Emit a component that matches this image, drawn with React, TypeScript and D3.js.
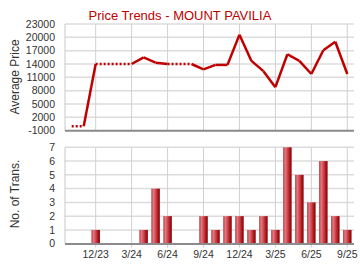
import React from "react";
import * as d3 from "d3";

const months = ["10/23","11/23","12/23","1/24","2/24","3/24","4/24","5/24","6/24","7/24","8/24","9/24","10/24","11/24","12/24","1/25","2/25","3/25","4/25","5/25","6/25","7/25","8/25","9/25"];
const prices = [0,0,14000,14000,14000,14000,15500,14300,14000,14000,14000,12800,13800,13800,20600,14700,12400,8800,16200,14700,11750,17100,19000,11750];
const trans = [0,0,1,0,0,0,1,4,2,0,0,2,1,2,2,1,2,1,7,5,3,6,2,1];
const xTickLabels = ["12/23","3/24","6/24","9/24","12/24","3/25","6/25","9/25"];
const priceTicks = [-1000,2000,5000,8000,11000,14000,17000,20000,23000];
const transTicks = [0,1,2,3,4,5,6,7];

const W = 360, H = 270;
const L = 65, R = 354;
const tickFont = "Liberation Sans, Arial, sans-serif";

export default function App() {
  const x = d3.scaleLinear().domain([-0.56, months.length - 0.44]).range([L, R]);
  const yP = d3.scaleLinear().domain([-1000, 23000]).range([130.7, 24]);
  const yT = d3.scaleLinear().domain([0, 7]).range([243.7, 147.3]);
  const tickIdx = xTickLabels.map((l) => months.indexOf(l));
  const line = d3.line<[number, number]>().x((d) => d[0]).y((d) => d[1]);
  const segs = prices.slice(1).map((p, i) => ({
    d: line([[x(i), yP(prices[i])], [x(i + 1), yP(p)]]) as string,
    dotted: trans[i + 1] === 0,
  }));
  const bw = 8.5;
  return (
    <svg width={W} height={H} style={{ position: "absolute", left: 0, top: 0, background: "#fff" }} fontFamily={tickFont}>
      <defs>
        <linearGradient id="barg" x1="0" x2="1" y1="0" y2="0">
          <stop offset="0%" stopColor="#c0383e" />
          <stop offset="25%" stopColor="#e07a7e" />
          <stop offset="55%" stopColor="#c9404a" />
          <stop offset="80%" stopColor="#a81418" />
          <stop offset="100%" stopColor="#800000" />
        </linearGradient>
      </defs>
      <text x={180} y={19.5} textAnchor="middle" fontSize={13} fill="#c00000">Price Trends - MOUNT PAVILIA</text>
      {/* top chart grid */}
      {priceTicks.map((t) => (
        <line key={"pg" + t} x1={L} x2={R} y1={yP(t)} y2={yP(t)} stroke="#dcdcdc" strokeWidth={1.5} />
      ))}
      {tickIdx.map((i) => (
        <line key={"pv" + i} x1={x(i)} x2={x(i)} y1={24} y2={130.7} stroke="#d0d0d0" strokeWidth={1} />
      ))}
      <line x1={L} x2={L} y1={24} y2={130.7} stroke="#c8c8c8" strokeWidth={1} />
      <line x1={L} x2={R} y1={130.7} y2={130.7} stroke="#8c8c8c" strokeWidth={2} />
      {priceTicks.map((t) => (
        <text key={"pl" + t} x={55} y={yP(t)} dy="0.35em" textAnchor="end" fontSize={10.5} fill="#333">{t}</text>
      ))}
      <text transform={`translate(19,77) rotate(-90)`} textAnchor="middle" fontSize={12} fill="#333">Average Price</text>
      {segs.map((s, i) => (
        <path key={"s" + i} d={s.d} fill="none" stroke="#c00000" strokeWidth={2.5}
          strokeDasharray={s.dotted ? "2,2" : undefined} strokeLinecap="butt" />
      ))}
      {/* bottom chart */}
      {transTicks.map((t) => (
        <line key={"tg" + t} x1={L} x2={R} y1={yT(t)} y2={yT(t)} stroke="#dcdcdc" strokeWidth={1.5} />
      ))}
      {tickIdx.map((i) => (
        <line key={"tv" + i} x1={x(i)} x2={x(i)} y1={147.3} y2={247.5} stroke="#d0d0d0" strokeWidth={1} />
      ))}
      <line x1={L} x2={L} y1={147.3} y2={243.7} stroke="#c8c8c8" strokeWidth={1} />
      {trans.map((v, i) => v > 0 ? (
        <rect key={"b" + i} x={x(i) - bw / 2} y={yT(v)} width={bw} height={yT(0) - yT(v)} fill="url(#barg)" />
      ) : null)}
      <line x1={L} x2={R} y1={244} y2={244} stroke="#8c8c8c" strokeWidth={2} />
      {transTicks.map((t) => (
        <text key={"tl" + t} x={55} y={yT(t)} dy="0.35em" textAnchor="end" fontSize={10.5} fill="#333">{t}</text>
      ))}
      {tickIdx.map((i, k) => (
        <text key={"xl" + i} x={x(i)} y={258} textAnchor="middle" fontSize={10.5} fill="#333">{xTickLabels[k]}</text>
      ))}
      <text transform={`translate(19,194) rotate(-90)`} textAnchor="middle" fontSize={12} fill="#333">No. of Trans.</text>
    </svg>
  );
}
